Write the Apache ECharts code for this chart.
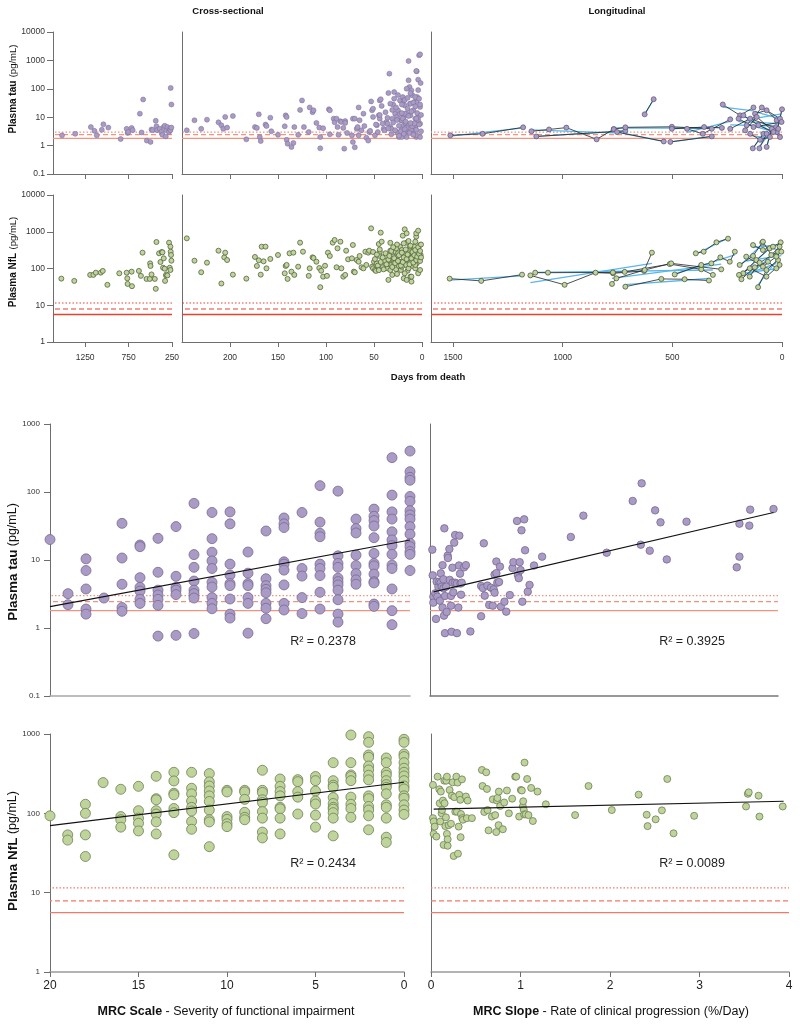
<!DOCTYPE html>
<html><head><meta charset="utf-8">
<script src="https://cdn.jsdelivr.net/npm/echarts@6/dist/echarts.min.js"></script>
<style>html,body{margin:0;padding:0;background:#fff}#c{width:800px;height:1026px}</style>
</head><body><div id="c"></div><script>
// ---------------- DATA ----------------
// Reference thresholds (pg/mL): solid, dashed, dotted
const tauRef = [1.8, 2.45, 3.0];
const nflRef = [5.6, 7.9, 11.5];

// Cross-sectional tau: [days from death, pg/mL]
const tauCrossEarly = [[1516,2.3],[1364,2.6],[1184,4.5],[1143,3.3],[1116,2.3],[1058,3.6],[1040,5.6],[983,4.3],[841,1.7],[772,3.9],[761,2.8],[754,3.0],[715,4.2],[703,3.5],[620,13.3],[600,2.9],[582,42],[540,1.5],[497,1.35],[486,3.7],[474,3.5],[437,7.5],[429,4.8],[422,3.5],[391,3.9],[371,3.0],[360,2.4],[345,4.5],[334,5.0],[322,2.1],[314,3.5],[303,4.5],[284,3.0],[276,3.9],[268,3.5],[265,107],[257,28],[257,4.3]];
const tauCrossLate = [[245,3.45],[237,7.8],[230,3.9],[224,8.2],[212,6.6],[209,5.2],[207,3.9],[205,10.2],[203,4.3],[197,11],[183,1.66],[174,4.5],[172,4.2],[170,12.6],[169,2.0],[168,1.45],[163,5.5],[162,4.9],[158,9.6],[157,3.2],[150,2.4],[143,4.8],[142,11.6],[141,10.2],[141,1.6],[140,1.17],[136,0.89],[134,1.24],[133,4.5],[129,2.4],[127,18],[125,39],[123,4.5],[118,3.0],[117,22],[114,15],[113,17.5],[110,6.3],[107,4.3],[106,2.0],[106,0.8],[103,4.1],[97,19],[96,17.5],[96,2.5],[92,8.9],[91,6.6],[89,8.9],[88,4.5],[87,2.4],[85,7.2],[84,6.8],[82,4.2],[81,0.78],[80,7.3],[80,6.3],[78,2.8],[73,2.3],[72,8.9],[72,1.34],[70,8.9],[70,0.87],[68,3.9],[67,4.5],[66,2.3],[66,22],[65,7.8],[63,3.45],[61,13.3],[60,4.9],[58,1.9],[56,1.5],[55,3.0],[54,3.3],[53,36],[52,17.5],[51,20],[51,10.2],[49,2.3],[47,5.2],[45,11.6],[44,8.9],[44,39],[43,43],[40,3.9],[39,3.45],[37,6.8],[36,5.9],[35,71],[34,341],[33,4.5],[32,3.9],[31,8.9],[30,28],[29,77],[28,13.3],[26,10.2],[26,3.0],[25,17.5],[24,2.0],[23,39],[22,7.8],[21,3.9],[20,51],[19,5.2],[19,10.2],[18,26],[17,5.9],[16,13.3],[15,3.0],[14,199],[14,953],[13,116],[12.5,30],[12,11.6],[11,5.9],[10,59],[9,17.5],[8,34],[7,8.9],[6,2.0],[5.5,412],[5,51],[4,7.8],[3,1507],[6,424],[4,210],[2,1636],[1.4,160],[16,101],[11,88],[7,51],[19,39],[12,30],[5.5,34],[2,23],[18,13.3],[4,10.2],[21,7.8],[14,5.2],[7,4.5],[2,5.9],[19,3.0],[11,3.45],[5.5,2.3],[2,2.0],[16,2.0],[9,2.6],[21,2.0],[48,5.5],[46,3.0],[44,12],[42,25],[41,6],[38,15],[36,9.5],[35,4],[33,30],[32,2.5],[31,18],[30,6.5],[29,45],[28,3.5],[27,22],[26,8],[25,60],[24,5],[23,13],[22,3.2],[21,28],[20,9],[19,2.6],[18,40],[17,7],[16,4.2],[15,20],[14,11],[13,2.8],[12,70],[11,16],[10,4.8],[9,33],[8,6],[7,24],[6,3.6],[5,14],[4,90],[3,5.5],[2,28],[1,12],[1,3.2],[3,45],[6,9],[9,2.4],[12,6.2],[15,48],[18,3.8],[21,14],[24,2.2]];

// Cross-sectional NfL: [days from death, pg/mL]
const nflCrossEarly = [[1524,53],[1375,46],[1192,67],[1155,67],[1127,77],[1070,77],[1047,86],[994,36],[857,74],[772,77],[765,54],[761,38],[715,82],[711,33],[631,86],[608,63],[589,270],[543,52],[505,52],[502,138],[497,117],[486,69],[448,52],[437,28],[429,526],[399,259],[383,150],[368,281],[360,275],[353,105],[345,189],[334,99],[330,46],[319,65],[314,69],[303,65],[284,505],[276,105],[268,393],[268,91],[265,287],[261,233],[257,163]];
const nflCrossLate = [[245,662],[237,163],[230,79],[224,144],[212,305],[209,39],[206,201],[205,270],[203,170],[197,68],[183,53],[174,206],[172,117],[170,167],[168,68],[167,393],[165,157],[163,393],[162,101],[158,182],[150,233],[143,74],[142,117],[141,125],[140,52],[138,259],[136,82],[134,270],[133,67],[129,112],[127,505],[124,287],[118,63],[117,101],[114,201],[113,193],[110,153],[107,103],[106,31],[105,87],[103,60],[101,119],[99,63],[98,270],[96,219],[93,505],[91,597],[89,108],[88,354],[85,537],[84,101],[82,60],[80,67],[79,305],[77,178],[73,189],[72,436],[71,82],[70,79],[68,170],[66,153],[65,219],[63,108],[61,101],[59,287],[58,125],[56,270],[55,305],[53,1239],[52,112],[51,101],[51,281],[50,153],[49,91],[48,86],[47,138],[45,464],[44,219],[44,287],[43,945],[42,537],[41,108],[40,153],[39,163],[37,210],[36,101],[35,49],[34,170],[33,305],[33,91],[32,125],[31,67],[30,210],[29,144],[28,287],[27,95],[26,170],[26,71],[25,259],[24,117],[23,393],[22,91],[21,153],[20,782],[19,54],[19,233],[18,1164],[17,125],[16,505],[15,87],[14,201],[13,305],[12.5,153],[12,60],[11,44],[10,117],[9,210],[8,393],[7,101],[6,735],[5.5,138],[5,287],[4,74],[3,170],[16,906],[6,906],[4,1071],[19,484],[12.5,393],[7,537],[2,436],[21,318],[14,259],[5.5,287],[1.4,233],[18,170],[11,153],[4,189],[21,112],[14,101],[7,125],[2,91],[18,74],[11,60],[16,49],[49,180],[47,240],[46,120],[44,330],[43,150],[41,200],[40,95],[38,260],[37,130],[35,175],[34,220],[32,300],[31,110],[29,190],[28,140],[27,350],[25,160],[24,230],[22,120],[21,270],[20,150],[19,200],[17,330],[16,180],[15,240],[13,130],[12,420],[11,190],[10,280],[9,145],[8,230],[7,320],[6,170],[5,210],[4,380],[3,250],[2,160],[2,300],[1,200],[1,450],[14,560],[26,450],[33,500],[45,90],[30,380]];

// Longitudinal trajectories: each a list of [days from death, pg/mL]
const tauLong = [
  [[1512,2.3],[1365,2.6],[1180,4.4]],
  [[1142,3.2],[1062,3.7],[983,4.3],[845,1.66],[767,3.8]],
  [[1120,2.1],[714,3.3]],
  [[626,12.6],[585,43]],
  [[767,3.8],[714,4.4],[502,4.6],[320,3.9]],
  [[752,3.0],[539,1.4]],
  [[509,1.35],[320,2.1]],
  [[502,3.9],[355,4.5],[274,4.2]],
  [[433,3.9],[361,2.6],[236,8.4]],
  [[270,28],[191,11.6],[130,22]],
  [[123,13.3],[70,17.5],[24,7.8]],
  [[24,3.0],[0,19]],
  [[133,0.8],[85,2.6]],
  [[103,0.8],[70,2.6],[27,4.5]],
  [[70,0.9],[47,3.9]],
  [[176,11.6],[108,5.2],[39,3.0]],
  [[161,5.2],[92,22],[9,8.9]],
  [[145,2.6],[100,1.6],[55,2.0]],
  [[236,3.9],[145,8.9],[17,3.9]],
  [[198,8.9],[130,4.5],[2,6.8]],
  [[168,3.45],[115,10.2],[9,2.0]]
];
const nflLong = [
  [[1515,53],[1371,46],[1185,68]],
  [[1147,65],[991,36],[850,77],[770,74],[629,86],[593,270]],
  [[1125,77],[1067,77],[771,78],[717,81],[512,132],[368,95],[315,67]],
  [[775,38],[755,54],[626,91],[505,138],[277,95]],
  [[714,32],[550,52],[444,51],[333,47]],
  [[489,69],[368,125],[322,138],[281,201],[238,153],[215,287]],
  [[393,259],[357,287],[299,515],[246,649]],
  [[193,125],[132,219],[90,505]],
  [[177,74],[117,170],[56,354]],
  [[147,60],[102,144],[18,287]],
  [[109,31],[71,91],[18,170]],
  [[132,435],[87,318],[41,393],[6,515]],
  [[196,67],[147,101],[71,60],[11,125]],
  [[163,210],[87,112],[26,210],[3,287]],
  [[87,537],[49,233],[11,393]],
  [[185,51],[124,108],[64,153],[26,101]]
];

// MRC scale (score) -> plasma values (pg/mL)
const tauByMrc = [
  [20,[20]],[19,[3.2,2.2]],[18,[10.4,7.0,3.75,1.9,1.6]],[17,[2.76]],
  [16,[34.6,10.7,4.4,2.0,1.76]],[15,[16.6,15.7,5.5,3.96,3.5,2.64,2.3]],
  [14,[20.8,6.6,3.6,3.05,2.64,2.15,0.76]],[13,[31,5.75,3.96,3.6,3.1,0.78]],
  [12,[68,12,7.8,4.9,3.6,3.2,2.76,0.83]],[11,[50,20.6,13,9.7,7.5,4.7,4.0,2.8,2.3,1.92]],
  [10,[51,34,8.7,6.0,4.5,4.2,2.67,1.6,1.4]],[9,[13.1,6.4,4.5,4.2,2.8,2.3,0.84]],
  [8,[26.7,5.3,4.2,3.7,3.3,2.3,1.95,1.37]],[7,[41.5,34,30,9.4,8.7,7.1,4.3,2.3,1.84]],
  [6,[50,7.5,5.8,2.8,1.63]],[5,[124,36,24.7,22,8.7,7.5,5.9,3.35,1.9]],
  [4,[103,11.5,8.9,7.8,5.4,4.8,4.3,3.6,2.6,1.6,1.22]],[3,[40,29,25,11.8,8.3,6.3,5.1,4.4]],
  [2,[56,44,38,31.6,21.3,12.5,8.9,8.2,6.2,4.8,4.6,2.25,2.08]],
  [1,[320,90,51,40,26,19.7,16.3,12.1,8.4,7.5,3.75,1.8,1.12]],
  [0,[400,199,164,149,86,73,53,46,40,31,24,17.6,15.7,13.3,12.1,7.0]]
];
const nflByMrc = [
  [20,[93]],[19,[53.5,46]],[18,[130,100,53.5,28.6]],[17,[244]],
  [16,[201,91,83,67]],[15,[219,108,87,75,60]],[14,[293,153,148,108,98,78,55]],
  [13,[329,256,179,171,115,102,30]],[12,[329,207,176,143,119,107,79,63]],
  [11,[317,249,221,191,166,141,110,83,78,38]],[10,[195,186,91,84,74,68]],
  [9,[195,186,150,103,89,83]],[8,[349,195,183,148,137,105,87,58,49]],
  [7,[271,219,188,166,119,114,87,55]],[6,[266,251,188,160,98]],
  [5,[291,258,191,143,131,95,67]],[4,[435,258,226,213,158,133,119,113,102,87,52]],
  [3,[971,435,305,291,258,160,130,115,89]],
  [2,[925,785,544,509,395,352,302,264,166,153,122,110,93,62]],
  [1,[499,435,329,302,258,230,213,176,128,119,87,50,43]],
  [0,[1213,857,785,560,519,435,370,329,296,258,221,203,166,155,128,110,97]]
];

// MRC slope (%/day) vs plasma values: [slope, pg/mL]
const tauBySlope = [[0.026,14.2],[0.03,5.95],[0.037,2.89],[0.037,2.36],[0.06,3.24],[0.067,1.36],[0.074,4.8],[0.082,2.89],[0.093,4.05],[0.104,4.8],[0.11,2.52],[0.12,6.37],[0.12,4.64],[0.13,4.05],[0.14,8.4],[0.14,2.0],[0.15,5.2],[0.15,3.83],[0.156,1.52],[0.16,29.2],[0.167,2.96],[0.167,0.84],[0.18,4.05],[0.186,1.72],[0.197,11.6],[0.2,10.7],[0.216,14.5],[0.22,5.1],[0.234,2.96],[0.234,2.13],[0.24,0.88],[0.25,7.7],[0.253,4.64],[0.26,3.35],[0.27,18],[0.28,23.3],[0.28,4.64],[0.3,0.84],[0.3,4.5],[0.316,2.0],[0.323,8.3],[0.327,22.8],[0.335,6.3],[0.34,4.5],[0.346,3.09],[0.353,4.64],[0.38,7.8],[0.4,8.4],[0.45,0.89],[0.57,1.49],[0.57,4.15],[0.59,3.87],[0.6,17.6],[0.61,2.99],[0.64,4.2],[0.66,2.18],[0.68,3.92],[0.7,2.13],[0.71,3.7],[0.72,3.31],[0.72,6.1],[0.74,6.4],[0.74,9.5],[0.75,4.64],[0.77,4.75],[0.78,8.0],[0.79,2.06],[0.83,2.44],[0.85,1.74],[0.89,3.05],[0.92,7.6],[0.93,9.3],[0.97,37.5],[0.98,6.0],[0.99,5.4],[1.0,9.3],[1.01,7.1],[1.02,27.3],[1.03,2.44],[1.05,39.6],[1.06,13.9],[1.09,3.42],[1.11,4.3],[1.16,8.3],[1.25,11.2],[1.57,21.8],[1.71,44.9],[1.97,12.8],[2.26,73.8],[2.35,16.8],[2.36,134],[2.45,13.7],[2.51,53.7],[2.57,35.8],[2.64,10.2],[2.86,36.6],[3.42,7.8],[3.45,11.2],[3.45,34.2],[3.56,32],[3.57,55],[3.83,56.2]];
const nflBySlope = [[0.022,228],[0.022,87],[0.03,79],[0.03,55],[0.041,68],[0.06,51],[0.074,290],[0.093,201],[0.097,134],[0.104,79],[0.11,188],[0.119,100],[0.123,110],[0.134,145],[0.141,40],[0.149,258],[0.152,134],[0.16,69],[0.167,89],[0.171,258],[0.178,290],[0.178,55],[0.186,47],[0.186,39],[0.197,71],[0.208,197],[0.223,74],[0.234,167],[0.242,246],[0.253,29],[0.26,160],[0.271,105],[0.283,290],[0.29,105],[0.297,244],[0.301,31],[0.309,68],[0.316,171],[0.327,148],[0.331,50],[0.335,98],[0.346,268],[0.349,87],[0.357,83],[0.39,163],[0.401,87],[0.409,145],[0.457,87],[0.569,352],[0.576,221],[0.595,104],[0.617,329],[0.625,203],[0.632,110],[0.643,61],[0.68,91],[0.691,150],[0.717,95],[0.729,58],[0.736,145],[0.743,156],[0.755,71],[0.758,188],[0.773,124],[0.803,63],[0.818,137],[0.848,194],[0.87,100],[0.907,153],[0.941,290],[0.952,290],[0.985,91],[1.004,197],[1.015,194],[1.026,122],[1.03,142],[1.037,110],[1.041,97],[1.045,436],[1.059,97],[1.074,271],[1.089,95],[1.119,209],[1.138,80],[1.19,188],[1.283,130],[1.61,95],[1.76,221],[2.02,110],[2.32,172],[2.41,96],[2.42,69],[2.51,84],[2.58,109],[2.64,271],[2.71,56],[2.94,93],[3.52,122],[3.54,176],[3.55,184],[3.66,167],[3.67,91],[3.93,122]];

// Regression lines (end points) and R² labels
const tauMrcFit = [[20,2.06],[0,19.7]];
const tauSlopeFit = [[0.04,3.4],[3.83,50]];
const nflMrcFit = [[20,70],[0,247]];
const nflSlopeFit = [[0.03,113],[3.94,142]];
const r2Labels = ['R² = 0.2378','R² = 0.3925','R² = 0.2434','R² = 0.0089'];

// Axis ticks
const earlyTicks = [250,750,1250];
const lateTicks = [0,50,100,150,200];
const longTicks = [0,500,1000,1500];

// ---------------- CHART ----------------
const FONT = 'Liberation Sans, Arial, Helvetica, sans-serif';
const AXC = '#6e6e6e';
const TAU_FILL = '#a99bc6', TAU_EDGE = '#776b8f';
const NFL_FILL = '#bed49b', NFL_EDGE = '#56633f';
const BLUE = '#5ab7e8';
const fmt = v => v < 1 ? String(+v.toFixed(1)) : String(Math.round(v));

const grids = [
  {left:53, top:32, width:119, height:142},
  {left:182, top:32, width:240, height:142},
  {left:431, top:32, width:351, height:142},
  {left:53, top:195, width:119, height:147},
  {left:182, top:195, width:240, height:147},
  {left:431, top:195, width:351, height:147},
  {left:50, top:424, width:360, height:272},
  {left:430, top:424, width:348, height:272},
  {left:50, top:734, width:354, height:238},
  {left:431, top:734, width:358, height:238}
].map(g => Object.assign({outerBoundsMode:'none', containLabel:false}, g));

function xTop(gi, min, max, ticks, showLabel) {
  return {type:'value', gridIndex:gi, min, max, inverse:true, position:'bottom',
    axisLine:{show:true, onZero:false, lineStyle:{color:AXC, width:1}},
    axisTick:{show:true, length:5, customValues:ticks, lineStyle:{color:AXC}},
    axisLabel:{show:showLabel, customValues:ticks, formatter:v => String(v), fontSize:8.5, color:'#333', margin:11, fontFamily:FONT},
    splitLine:{show:false}};
}
function xBottom(gi, min, max, inverse, labels, lineColor) {
  return {type:'value', gridIndex:gi, min, max, inverse, position:'bottom', interval: labels ? (inverse ? 5 : 1) : undefined,
    axisLine:{show:true, onZero:false, lineStyle:{color:lineColor, width:1.5}},
    axisTick:{show:labels, length:5, lineStyle:{color:AXC}},
    axisLabel:{show:labels, formatter:v => String(v), fontSize:12, color:'#222', margin:8, fontFamily:FONT},
    splitLine:{show:false}};
}
function yLog(gi, min, max, labelSize, margin) {
  return {type:'log', logBase:10, gridIndex:gi, min, max, position:'left',
    axisLine:{show:true, onZero:false, lineStyle:{color:AXC, width:1}},
    axisTick:{show:!!labelSize, length:6, lineStyle:{color:AXC}},
    axisLabel:{show:!!labelSize, fontSize:labelSize||8, color:'#333', formatter:fmt, margin:margin||8, fontFamily:FONT},
    splitLine:{show:false}};
}

const xAxes = [
  xTop(0, 250, 1620, earlyTicks, false),
  xTop(1, 0, 250, lateTicks, false),
  xTop(2, 0, 1600, longTicks, false),
  xTop(3, 250, 1620, earlyTicks, true),
  xTop(4, 0, 250, lateTicks, true),
  xTop(5, 0, 1600, longTicks, true),
  xBottom(6, 0, 20, true, false, '#a8a8a8'),
  xBottom(7, 0, 3.88, false, false, '#777'),
  xBottom(8, 0, 20, true, true, '#9a9a9a'),
  xBottom(9, 0, 4, false, true, '#9a9a9a')
];
const yAxes = [
  yLog(0, 0.1, 10000, 8.5, 8), yLog(1, 0.1, 10000), yLog(2, 0.1, 10000),
  yLog(3, 1, 10000, 8.5, 8), yLog(4, 1, 10000), yLog(5, 1, 10000),
  yLog(6, 0.1, 1000, 8, 10), yLog(7, 0.1, 1000),
  yLog(8, 1, 1000, 8, 10), yLog(9, 1, 1000)
];

const series = [];
const refStyles = ['solid', [5,3], [1.5,2]];
function refLines(gi, refs, xmin, xmax, color) {
  refs.forEach((v, i) => {
    series.push({type:'line', xAxisIndex:gi, yAxisIndex:gi, data:[[xmin, v],[xmax, v]],
      symbol:'none', silent:true, z:1,
      lineStyle:{color, width: i === 0 ? 1.3 : 1.2, type: refStyles[i]}});
  });
}
function scatter(gi, data, size, fill, edge, bw) {
  series.push({type:'scatter', xAxisIndex:gi, yAxisIndex:gi, data, symbolSize:size, z:3,
    itemStyle:{color:fill, borderColor:edge, borderWidth:bw, opacity:1}});
}
function fitLine(traj) {
  const n = traj.length; let sx=0, sy=0, sxx=0, sxy=0;
  traj.forEach(([d, v]) => { const y = Math.log10(v); sx+=d; sy+=y; sxx+=d*d; sxy+=d*y; });
  const b = (n*sxy - sx*sy) / (n*sxx - sx*sx); const a = (sy - b*sx) / n;
  const d0 = traj[0][0], d1 = traj[n-1][0];
  return [[d0, Math.pow(10, a + b*d0)], [d1, Math.pow(10, a + b*d1)]];
}
function longitudinal(gi, trajs, fill, edge) {
  trajs.forEach(t => series.push({type:'line', xAxisIndex:gi, yAxisIndex:gi, data:fitLine(t),
    symbol:'none', z:2, lineStyle:{color:BLUE, width:1.3}}));
  trajs.forEach(t => series.push({type:'line', xAxisIndex:gi, yAxisIndex:gi, data:t,
    symbol:'circle', symbolSize:5, showSymbol:true, z:3,
    itemStyle:{color:fill, borderColor:edge, borderWidth:0.7},
    lineStyle:{color:'#222', width:0.8}}));
}
function trend(gi, data) {
  series.push({type:'line', xAxisIndex:gi, yAxisIndex:gi, data, symbol:'none', z:4,
    lineStyle:{color:'#111', width:1.1}});
}
const flatten = cols => cols.flatMap(([m, vals]) => vals.map(v => [m, v]));

const TAU_LINE = '#f3937f', NFL_TOP_LINE = '#e8402f', NFL_LINE = '#f07a68';
refLines(0, tauRef, 250, 1620, TAU_LINE);
refLines(1, tauRef, 0, 250, TAU_LINE);
refLines(2, tauRef, 0, 1600, TAU_LINE);
refLines(3, nflRef, 250, 1620, NFL_TOP_LINE);
refLines(4, nflRef, 0, 250, NFL_TOP_LINE);
refLines(5, nflRef, 0, 1600, NFL_TOP_LINE);
refLines(6, tauRef, 0, 20, TAU_LINE);
refLines(7, tauRef, 0, 3.88, TAU_LINE);
refLines(8, nflRef, 0, 20, NFL_LINE);
refLines(9, nflRef, 0, 4, NFL_LINE);

scatter(0, tauCrossEarly, 5, TAU_FILL, TAU_EDGE, 0.5);
scatter(1, tauCrossLate, 5, TAU_FILL, TAU_EDGE, 0.5);
longitudinal(2, tauLong, TAU_FILL, '#5a5070');
scatter(3, nflCrossEarly, 5, NFL_FILL, NFL_EDGE, 0.8);
scatter(4, nflCrossLate, 5, NFL_FILL, NFL_EDGE, 0.8);
longitudinal(5, nflLong, NFL_FILL, '#3e4630');

scatter(6, flatten(tauByMrc), 10, TAU_FILL, TAU_EDGE, 0.8);
scatter(7, tauBySlope, 7.5, TAU_FILL, TAU_EDGE, 0.8);
scatter(8, flatten(nflByMrc), 10, NFL_FILL, '#6e7f55', 0.8);
scatter(9, nflBySlope, 7, NFL_FILL, '#6e7f55', 0.8);
trend(6, tauMrcFit); trend(7, tauSlopeFit); trend(8, nflMrcFit); trend(9, nflSlopeFit);

function txt(x, y, text, size, bold, extra) {
  return {type:'text', x, y, silent:true, style:Object.assign({text, fontSize:size,
    fontWeight: bold ? 'bold' : 'normal', fontFamily:FONT, fill:'#111', align:'center', verticalAlign:'middle'}, extra || {})};
}
function yName(x, y, bold, rest, bsize, rsize) {
  return {type:'text', x, y, rotation:Math.PI/2, silent:true,
    style:{text:'{b|' + bold + '} {r|' + rest + '}', fontFamily:FONT, align:'center', verticalAlign:'middle', fill:'#111',
      rich:{b:{fontWeight:'bold', fontSize:bsize, fontFamily:FONT, fill:'#111'}, r:{fontSize:rsize, fontFamily:FONT, fill:'#111'}}}};
}
function xName(x, y, bold, rest) {
  return {type:'text', x, y, silent:true,
    style:{text:'{b|' + bold + '}{r| - ' + rest + '}', fontFamily:FONT, align:'center', verticalAlign:'middle', fill:'#111',
      rich:{b:{fontWeight:'bold', fontSize:12.5, fontFamily:FONT, fill:'#111'}, r:{fontSize:12.5, fontFamily:FONT, fill:'#111'}}}};
}

const graphic = [
  txt(228, 11, 'Cross-sectional', 9.5, true),
  txt(617, 11, 'Longitudinal', 9.5, true),
  txt(428, 377, 'Days from death', 9.5, true),
  yName(13, 89, 'Plasma tau', '(pg/mL)', 10, 9.5),
  yName(13, 262, 'Plasma NfL', '(pg/mL)', 10, 9.5),
  yName(13, 562, 'Plasma tau', '(pg/mL)', 13.5, 12.5),
  yName(13, 851, 'Plasma NfL', '(pg/mL)', 13.5, 12.5),
  xName(226, 1012, 'MRC Scale', 'Severity of functional impairment'),
  xName(611, 1012, 'MRC Slope', 'Rate of clinical progression (%/Day)'),
  txt(323, 642, r2Labels[0], 12.5, false, {fill:'#222'}),
  txt(692, 642, r2Labels[1], 12.5, false, {fill:'#222'}),
  txt(323, 864, r2Labels[2], 12.5, false, {fill:'#222'}),
  txt(692, 864, r2Labels[3], 12.5, false, {fill:'#222'})
];

const chart = echarts.init(document.getElementById('c'), null, {renderer:'canvas'});
chart.setOption({
  animation:false, backgroundColor:'#fff', textStyle:{fontFamily:FONT},
  grid:grids, xAxis:xAxes, yAxis:yAxes, series, graphic
});
</script></body></html>
